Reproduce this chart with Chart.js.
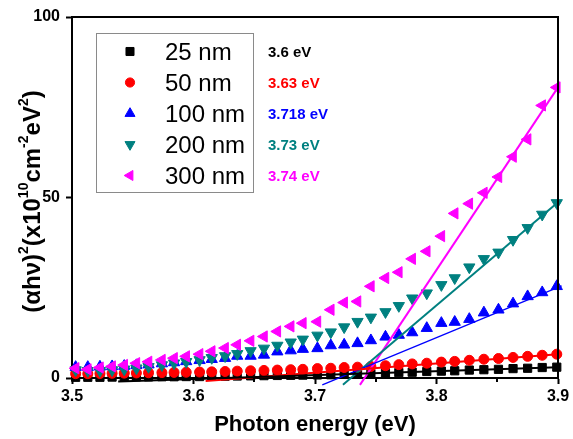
<!DOCTYPE html>
<html>
<head>
<meta charset="utf-8">
<script src="https://cdn.jsdelivr.net/npm/chart.js@4.4.1/dist/chart.umd.min.js"></script>
<style>
html,body{margin:0;padding:0;background:#ffffff;}
#wrap{width:573px;height:439px;position:relative;}
</style>
</head>
<body>
<div id="wrap"><canvas id="c" width="573" height="439"></canvas></div>
<script>
// ---- data ----
const energies = [3.503,3.513,3.523,3.533,3.543,3.553,3.563,3.574,3.584,3.594,3.605,3.615,3.626,3.636,3.647,3.658,3.669,3.680,3.690,3.702,3.713,3.724,3.735,3.746,3.758,3.769,3.780,3.792,3.804,3.815,3.827,3.839,3.851,3.863,3.875,3.887,3.899];

const series25  = [0.2,0.2,0.2,0.25,0.25,0.3,0.3,0.35,0.35,0.4,0.4,0.45,0.5,0.55,0.6,0.65,0.7,0.75,0.8,0.85,0.9,1.0,1.1,1.2,1.3,1.5,1.6,1.8,1.9,2.0,2.2,2.3,2.4,2.6,2.7,2.9,3.0];
const series50  = [1.2,1.2,1.25,1.3,1.35,1.4,1.45,1.5,1.55,1.6,1.65,1.7,1.8,1.9,2.0,2.1,2.2,2.3,2.4,2.6,2.7,2.9,3.0,3.2,3.4,3.7,3.9,4.1,4.4,4.6,4.9,5.2,5.4,5.7,6.0,6.3,6.6];
const series100 = [3.0,3.0,3.1,3.2,3.3,3.5,3.7,4.0,4.3,4.6,4.9,5.2,5.5,6.1,6.1,6.4,7.3,7.6,8.0,8.2,9.0,9.2,9.6,10.4,11.4,11.9,12.6,13.8,15.2,15.5,16.3,18.1,18.9,20.6,22.6,23.7,25.4];
const series200 = [2.2,2.0,2.0,2.2,2.4,2.7,3.1,3.6,4.1,4.5,5.0,5.6,6.1,6.7,7.5,8.2,9.0,9.9,10.7,11.8,12.7,14.1,15.6,16.8,18.3,20.0,22.1,23.5,25.8,27.7,30.7,33.0,34.8,38.3,41.6,45.3,48.5];
const series300 = [2.7,2.4,2.9,3.2,3.6,4.1,4.5,5.0,5.5,6.0,6.6,7.4,8.3,9.2,10.3,11.5,12.9,14.3,15.2,15.6,18.9,20.9,21.2,25.4,27.7,29.3,33.0,35.1,39.3,45.6,48.3,51.3,55.7,61.3,66.1,75.5,80.5];

// linear fits (start / end points)
const fit25X  = [3.538, 3.900], fit25Y  = [-1.0, 3.0];
const fit50X  = [3.610, 3.900], fit50Y  = [-0.8, 6.6];
const fit100X = [3.706, 3.903], fit100Y = [-1.9, 25.5];
const fit200X = [3.723, 3.900], fit200Y = [-1.9, 48.7];
const fit300X = [3.737, 3.900], fit300Y = [-1.9, 80.5];

const seriesLabels = ['25 nm', '50 nm', '100 nm', '200 nm', '300 nm'];
const gapLabels = ['3.6 eV', '3.63 eV', '3.718 eV', '3.73 eV', '3.74 eV'];
const xTickValues = [3.5, 3.6, 3.7, 3.8, 3.9];
const xMinorTicks = [3.55, 3.65, 3.75, 3.85];
const yTickValues = [0, 50, 100];

// ---- styles ----
const colors = ['#000000', '#ff0000', '#0000ff', '#008080', '#ff00ff'];
const styles = ['rect', 'circle', 'triangle', 'triangle', 'triangle'];
const rotations = [0, 0, 0, 180, 270];
const radii = [5.8, 5, 6.5, 6.5, 6.5];
const legendRadii = [5.7, 4.6, 5.8, 5.8, 5.8];
const fitWidths = [2, 2, 1.3, 2, 2];

const FONT = '"Liberation Sans", Arial, Helvetica, sans-serif';
const allSeries = [series25, series50, series100, series200, series300];
const allFitX = [fit25X, fit50X, fit100X, fit200X, fit300X];
const allFitY = [fit25Y, fit50Y, fit100Y, fit200Y, fit300Y];

function pts(xs, ys) { return xs.map((x, i) => ({x: x, y: ys[i]})); }

const datasets = [];
// fit lines (drawn on top)
for (let i = 0; i < 5; i++) {
  datasets.push({
    label: seriesLabels[i] + ' fit',
    data: pts(allFitX[i], allFitY[i]),
    showLine: true,
    borderColor: colors[i],
    borderWidth: fitWidths[i],
    pointRadius: 0,
    fill: false,
    clip: false,
    order: i
  });
}
// markers: 300 nm on top, 25 nm at the bottom
const markerOrder = [9, 8, 7, 6, 5];
for (let i = 0; i < 5; i++) {
  datasets.push({
    label: seriesLabels[i],
    data: pts(energies, allSeries[i]),
    showLine: false,
    pointStyle: styles[i],
    pointRotation: rotations[i],
    pointRadius: radii[i],
    pointHoverRadius: radii[i],
    pointBackgroundColor: colors[i],
    pointBorderColor: colors[i],
    pointBorderWidth: 1,
    clip: false,
    order: markerOrder[i]
  });
}

const framePlugin = {
  id: 'frame',
  afterDraw(chart) {
    const ctx = chart.ctx, a = chart.chartArea;
    const xs = chart.scales.x;
    ctx.save();
    ctx.strokeStyle = '#000';
    ctx.lineWidth = 2;
    ctx.beginPath();
    ctx.moveTo(a.left, a.top);
    ctx.lineTo(a.right, a.top);
    ctx.lineTo(a.right, a.bottom);
    ctx.stroke();
    // minor x ticks
    ctx.lineWidth = 2;
    xMinorTicks.forEach(v => {
      const px = Math.round(xs.getPixelForValue(v));
      ctx.beginPath();
      ctx.moveTo(px, a.bottom);
      ctx.lineTo(px, a.bottom + 4);
      ctx.stroke();
    });
    ctx.restore();
  }
};

const legendPlugin = {
  id: 'boxLegend',
  afterDraw(chart) {
    const ctx = chart.ctx, a = chart.chartArea;
    const left = a.left + 24, top = a.top + 16, w = 157, h = 159;
    ctx.save();
    ctx.strokeStyle = '#8a8a8a';
    ctx.lineWidth = 1;
    ctx.strokeRect(left + 0.5, top + 0.5, w, h);
    for (let i = 0; i < 5; i++) {
      const cy = top + 18.5 + i * 31;
      ctx.fillStyle = colors[i];
      ctx.strokeStyle = colors[i];
      Chart.helpers.drawPoint(ctx, {pointStyle: styles[i], radius: legendRadii[i], rotation: rotations[i], borderWidth: 1}, left + 34, cy);
      ctx.fillStyle = '#000';
      ctx.font = '24px ' + FONT;
      ctx.textAlign = 'left';
      ctx.textBaseline = 'alphabetic';
      ctx.fillText(seriesLabels[i], left + 69, cy + 8.6);
      ctx.fillStyle = colors[i];
      ctx.font = 'bold 15px ' + FONT;
      ctx.fillText(gapLabels[i], left + 172, cy + 5.4);
    }
    ctx.restore();
  }
};

const yTitlePlugin = {
  id: 'yTitle',
  afterDraw(chart) {
    const ctx = chart.ctx, a = chart.chartArea;
    const segs = [
      ['(\u03b1h\u03bd)', false], ['2', true], ['(x10', false], ['10', true],
      ['cm', false], ['-2', true], ['eV', false], ['2', true], [')', false]
    ];
    const big = 'bold 24px ' + FONT, sup = 'bold 14px ' + FONT;
    ctx.save();
    let total = 0;
    segs.forEach(s => { ctx.font = s[1] ? sup : big; total += ctx.measureText(s[0]).width; });
    ctx.translate(40, (a.top + a.bottom) / 2 + 4);
    ctx.rotate(-Math.PI / 2);
    ctx.fillStyle = '#000';
    ctx.textBaseline = 'alphabetic';
    ctx.textAlign = 'left';
    let x = -total / 2;
    segs.forEach(s => {
      ctx.font = s[1] ? sup : big;
      ctx.fillText(s[0], x, s[1] ? -12 : 0);
      x += ctx.measureText(s[0]).width;
    });
    ctx.restore();
  }
};

new Chart(document.getElementById('c'), {
  type: 'scatter',
  data: { datasets: datasets },
  options: {
    responsive: false,
    animation: false,
    devicePixelRatio: 1,
    layout: { padding: { left: 33, right: 15, top: 17, bottom: 0 } },
    plugins: { legend: { display: false }, tooltip: { enabled: false } },
    scales: {
      x: {
        type: 'linear', min: 3.5, max: 3.9,
        afterFit(s) { s.height = 61; },
        afterBuildTicks(s) { s.ticks = xTickValues.map(v => ({value: v})); },
        ticks: {
          color: '#000', padding: 3,
          font: { family: FONT, size: 16, weight: 'bold' },
          callback: v => Number(v).toFixed(1)
        },
        grid: { drawOnChartArea: false, drawTicks: true, tickLength: 6, tickWidth: 2, tickColor: '#000' },
        border: { display: true, color: '#000', width: 2 },
        title: {
          display: true, text: 'Photon energy (eV)', color: '#000',
          font: { family: FONT, size: 22, weight: 'bold' },
          padding: { top: 0, bottom: 1 }
        }
      },
      y: {
        type: 'linear', min: 0, max: 100,
        afterFit(s) { s.width = 39; },
        afterBuildTicks(s) { s.ticks = yTickValues.map(v => ({value: v})); },
        ticks: {
          color: '#000', padding: 6,
          font: { family: FONT, size: 16, weight: 'bold' }
        },
        grid: { drawOnChartArea: false, drawTicks: true, tickLength: 6, tickWidth: 2, tickColor: '#000' },
        border: { display: true, color: '#000', width: 2 }
      }
    }
  },
  plugins: [framePlugin, legendPlugin, yTitlePlugin]
});
</script>
</body>
</html>
